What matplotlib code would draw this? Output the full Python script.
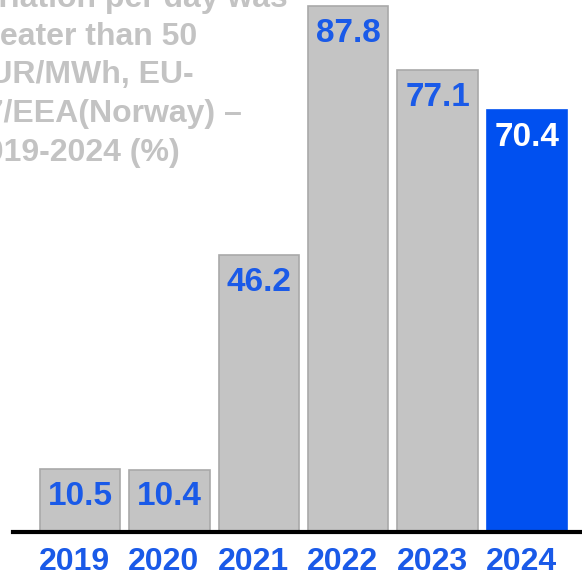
import matplotlib.pyplot as plt
from matplotlib.transforms import ScaledTranslation

years = ["2019", "2020", "2021", "2022", "2023", "2024"]
values = [10.5, 10.4, 46.2, 87.8, 77.1, 70.4]

title_lines = [
    "variation per day was",
    "greater than 50",
    "EUR/MWh, EU-",
    "27/EEA(Norway) \u2013",
    "2019-2024 (%)",
]

plt.rcParams["font.family"] = ["Liberation Sans", "DejaVu Sans"]
plt.rcParams["font.weight"] = "bold"

grey = "#c4c4c4"
blue = "#0050f0"
label_blue = "#1a5ae8"

fig = plt.figure(figsize=(5.82, 5.77), dpi=100)
ax = fig.add_axes([13 / 582, 45 / 577, 1 - 13 / 582, 1 - 45 / 577])

x = range(len(years))
colors = [grey] * (len(years) - 1) + [blue]
edges = ["#a9a9a9"] * (len(years) - 1) + [blue]
bars = ax.bar(x, values, width=0.9, color=colors, edgecolor=edges, linewidth=1.2, zorder=2)

for i, (bar, v) in enumerate(zip(bars, values)):
    c = "white" if i == len(values) - 1 else label_blue
    ax.annotate(f"{v:.1f}", (bar.get_x() + bar.get_width() / 2, v),
                xytext=(0, -8.5), textcoords="offset points",
                ha="center", va="top", fontsize=24, fontweight="bold", color=c)

ax.set_xlim(-0.75, 5.615)
ax.set_ylim(0, 88.8)
ax.set_xticks(list(x))
ax.set_xticklabels(years, fontsize=23, fontweight="bold", color=label_blue)
ax.tick_params(axis="x", length=0, pad=11)
# year labels sit a little left of the bar centres
shift = ScaledTranslation(-5.5 / 100, 0, fig.dpi_scale_trans)
for lbl in ax.get_xticklabels():
    lbl.set_transform(lbl.get_transform() + shift)
ax.set_yticks([])
for side in ["top", "left", "right"]:
    ax.spines[side].set_visible(False)
ax.spines["bottom"].set_linewidth(3)
ax.spines["bottom"].set_color("black")

# title block, partly running off the left edge
for k, line in enumerate(title_lines):
    left = -37 if k == 0 else -32
    fig.text(left / 582, 1 - (6.5 + 38.5 * k) / 577, line, ha="left", va="baseline",
             fontsize=23, fontweight="bold", color="#c3c3c3")

fig.savefig("out.png", dpi=100)
